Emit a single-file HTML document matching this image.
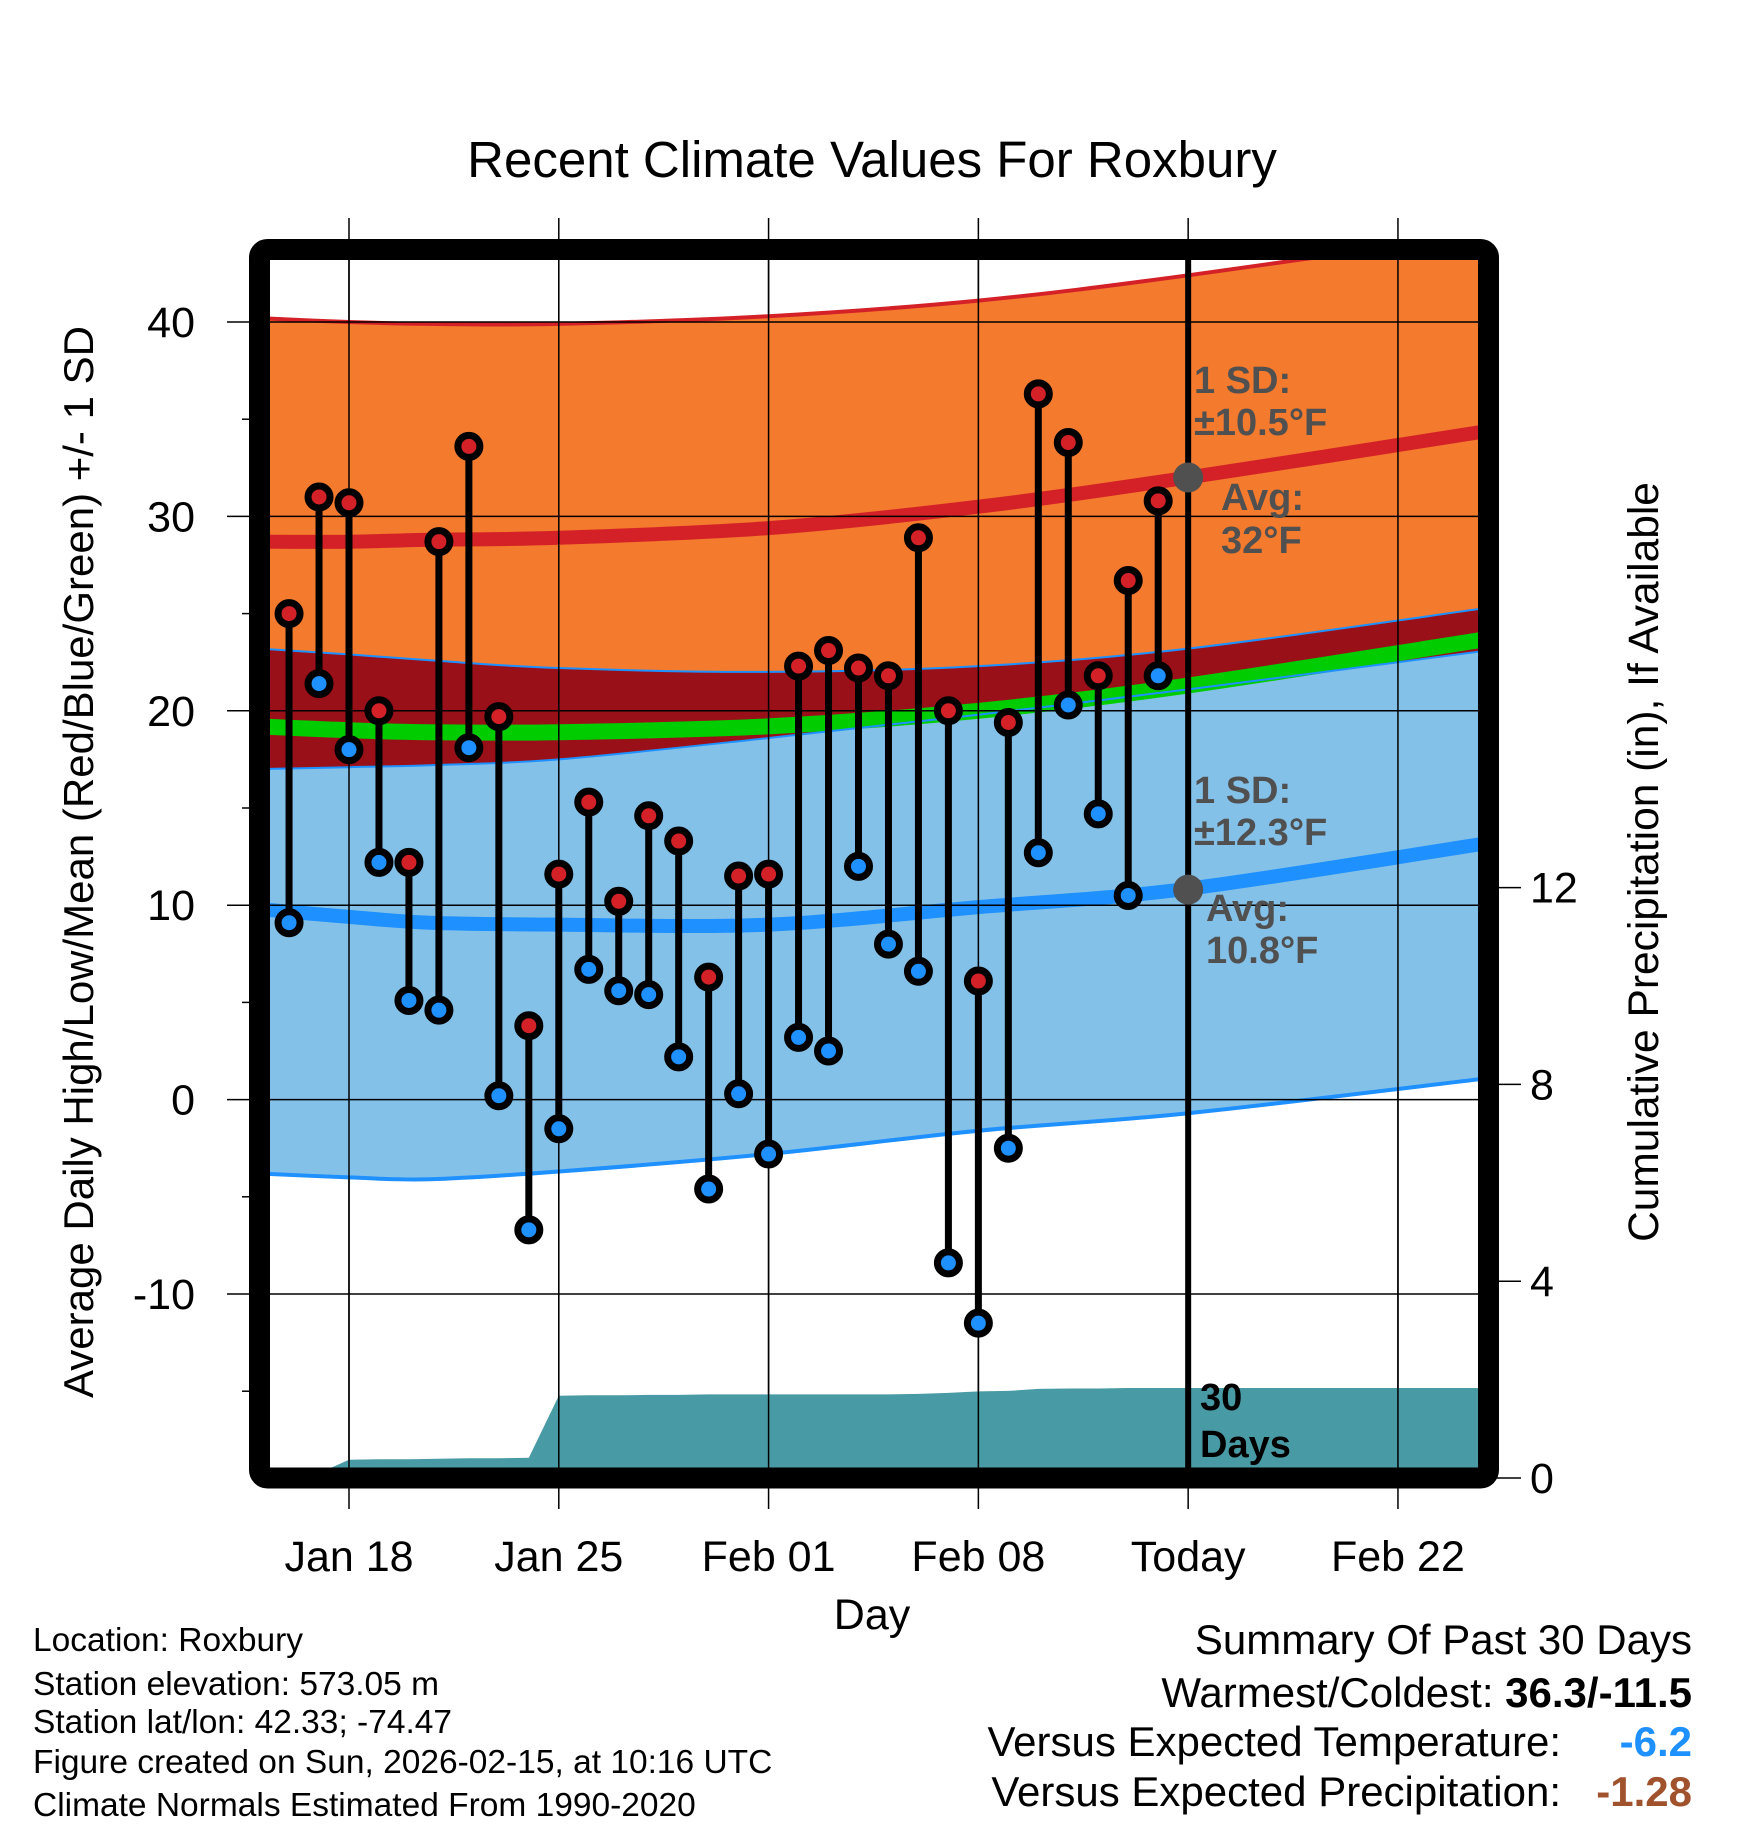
<!DOCTYPE html>
<html><head><meta charset="utf-8"><style>
html,body{margin:0;padding:0;background:#fff}
svg{display:block;font-family:"Liberation Sans",sans-serif}
</style></head><body>
<svg id="chart" width="1748" height="1828" viewBox="0 0 1748 1828" xmlns="http://www.w3.org/2000/svg">
<defs><clipPath id="clip"><rect x="270" y="260" width="1208" height="1208"/></clipPath></defs>
<text x="872" y="177" font-size="51" text-anchor="middle">Recent Climate Values For Roxbury</text>
<g id="grid"></g>
<g id="bands" clip-path="url(#clip)"></g>
<g id="gridin"></g>
<g id="marks"></g>
<g id="annot"></g>
<rect x="259.5" y="249.5" width="1229" height="1228.5" rx="8" fill="none" stroke="#000" stroke-width="21"/>
<g id="axes"></g>
<g font-size="33.5">
<text x="33" y="1651">Location: Roxbury</text>
<text x="33" y="1695">Station elevation: 573.05 m</text>
<text x="33" y="1733">Station lat/lon: 42.33; -74.47</text>
<text x="33" y="1773">Figure created on Sun, 2026-02-15, at 10:16 UTC</text>
<text x="33" y="1816">Climate Normals Estimated From 1990-2020</text>
</g>
<g font-size="42" text-anchor="end">
<text x="1692" y="1654">Summary Of Past 30 Days</text>
<text x="1692" y="1707">Warmest/Coldest: <tspan font-weight="bold">36.3/-11.5</tspan></text>
<text x="1561" y="1756">Versus Expected Temperature:</text>
<text x="1692" y="1756" fill="#1e90ff" font-weight="bold">-6.2</text>
<text x="1561" y="1806">Versus Expected Precipitation:</text>
<text x="1692" y="1806" fill="#a0522d" font-weight="bold">-1.28</text>
</g>
</svg>
<script>
const highs=[25.0,31.0,30.7,20.0,12.2,28.7,33.6,19.7,3.8,11.6,15.3,10.2,14.6,13.3,6.3,11.5,11.6,22.3,23.1,22.2,21.8,28.9,20.0,6.1,19.4,36.3,33.8,21.8,26.7,30.8];
const lows=[9.1,21.4,18.0,12.2,5.1,4.6,18.1,0.2,-6.7,-1.5,6.7,5.6,5.4,2.2,-4.6,0.3,-2.8,3.2,2.5,12.0,8.0,6.6,-8.4,-11.5,-2.5,12.7,20.3,14.7,10.5,21.8];
const precipCum=[0.05,0.1,0.37,0.38,0.38,0.39,0.40,0.40,0.41,1.67,1.68,1.68,1.69,1.69,1.70,1.70,1.70,1.70,1.70,1.70,1.70,1.71,1.73,1.76,1.77,1.81,1.82,1.82,1.83,1.83,1.83,1.83,1.83,1.83,1.83,1.83,1.83,1.83,1.83,1.83,1.83];
const normDays=[-3,0,2.7,7,14,21,28,38];
const highPlusSD=[40.2,40.0,39.9,39.9,40.3,41.1,42.4,44.6];
const highMean=[28.7,28.7,28.8,28.9,29.4,30.5,32.0,34.4];
const highMinusSD=[23.2,22.9,22.6,22.2,22.0,22.3,23.2,25.3];
const meanMean=[19.2,19.0,18.9,18.9,19.2,20.0,21.3,23.7];
const lowPlusSD=[17.0,17.1,17.2,17.5,18.6,19.8,21.1,23.1];
const lowMean=[9.8,9.4,9.1,9.0,9.0,9.9,10.85,13.2];
const lowMinusSD=[-3.8,-4.0,-4.1,-3.7,-2.8,-1.6,-0.7,1.1];
const tempTicks=[40,30,20,10,0,-10];
const precipTicks=[0,4,8,12];
const dateLabels=["Jan 18","Jan 25","Feb 01","Feb 08","Today","Feb 22"];
const dateOffsets=[0,7,14,21,28,35];
const firstDay=-2;
const NS="http://www.w3.org/2000/svg";
const X=d=>349+d*29.97;
const Y=t=>322+(40-t)*19.44;
const P=p=>1478-p*49.2;
function mk(tag,attrs,parent){const e=document.createElementNS(NS,tag);for(const k in attrs)e.setAttribute(k,attrs[k]);parent.appendChild(e);return e;}
const g=id=>document.getElementById(id);
// smooth path through points (Catmull-Rom -> cubic Bezier), returns segment string without initial M
function smooth(arr,rev){
  let p=normDays.map((d,i)=>[X(d),Y(arr[i])]);
  if(rev)p=p.slice().reverse();
  let s="";
  for(let i=0;i<p.length-1;i++){
    const p0=p[Math.max(0,i-1)],p1=p[i],p2=p[i+1],p3=p[Math.min(p.length-1,i+2)];
    const c1=[p1[0]+(p2[0]-p0[0])/6,p1[1]+(p2[1]-p0[1])/6];
    const c2=[p2[0]-(p3[0]-p1[0])/6,p2[1]-(p3[1]-p1[1])/6];
    s+=" C"+c1[0].toFixed(1)+","+c1[1].toFixed(1)+" "+c2[0].toFixed(1)+","+c2[1].toFixed(1)+" "+p2[0].toFixed(1)+","+p2[1].toFixed(1);
  }
  return {start:p[0],seg:s};
}
function band(top,bot,fill,name){
  const a=smooth(top,false),b=smooth(bot,true);
  const d="M"+a.start.join(",")+a.seg+" L"+b.start.join(",")+b.seg+" Z";
  const e=mk('path',{d:d,fill:fill},g('bands'));
  
  
}
function line(arr,color,w,name){
  const a=smooth(arr,false);
  const e=mk('path',{d:"M"+a.start.join(",")+a.seg,fill:'none',stroke:color,'stroke-width':w},g('bands'));
  
  
}
band(highPlusSD,highMinusSD,'#f47a2d','high-sd-band');
band(highMinusSD,lowPlusSD,'#9a1018','overlap-band');
band(lowPlusSD,lowMinusSD,'#84c1e8','low-sd-band');
line(highPlusSD,'#d42127',4,'high-plus-sd-line');
line(highMinusSD,'#1e90ff',2,'high-minus-sd-line');
line(meanMean,'#00cc00',16,'mean-line');
line(lowPlusSD,'#1e90ff',2,'low-plus-sd-line');
line(highMean,'#d42127',14,'high-mean-line');
line(lowMean,'#1e90ff',14,'low-mean-line');
line(lowMinusSD,'#1e90ff',4,'low-minus-sd-line');
{
  let d="M"+X(-3)+","+P(0);
  precipCum.forEach((v,i)=>{d+=" L"+X(-2+i)+","+P(v).toFixed(1);});
  d+=" L"+X(38)+","+P(precipCum[precipCum.length-1]).toFixed(1)+" L"+X(38)+","+P(0)+" Z";
  const e=mk('path',{d:d,fill:'#489aa4'},g('bands'));
  
  
}
dateOffsets.forEach((d,i)=>{
  const x=X(d);
  const a=mk('line',{x1:x,x2:x,y1:218,y2:1509,stroke:'#000','stroke-width':1.5},g('grid'));
  
  
  if(i==4){
    const b=mk('line',{x1:x,x2:x,y1:260,y2:1468,stroke:'#000','stroke-width':6},g('gridin'));
    
    
  } else {
    const b=mk('line',{x1:x,x2:x,y1:260,y2:1468,stroke:'#000','stroke-width':1.5},g('gridin'));
    
    
  }
  const t=mk('text',{x:x,y:1571,'font-size':43,'text-anchor':'middle'},g('axes'));
  t.textContent=dateLabels[i];
  
  
});
tempTicks.forEach(v=>{
  const y=Y(v);
  const a=mk('line',{x1:227,x2:1478,y1:y,y2:y,stroke:'#000','stroke-width':1.5},g('gridin'));
  
  
  const t=mk('text',{x:195,y:y+15,'font-size':43,'text-anchor':'end'},g('axes'));
  t.textContent=v;
  
  
  const m=mk('line',{x1:242,x2:252,y1:Y(v-5),y2:Y(v-5),stroke:'#000','stroke-width':1.5},g('grid'));
  
  
});
precipTicks.forEach(v=>{
  const y=P(v);
  const a=mk('line',{x1:1488,x2:1521,y1:y,y2:y,stroke:'#000','stroke-width':1.5},g('axes'));
  
  
  const t=mk('text',{x:1530,y:y+15,'font-size':43},g('axes'));
  t.textContent=v;
  
  
});
{
  const a=g('axes');
  let t=mk('text',{x:872,y:1629,'font-size':43,'text-anchor':'middle'},a);
  t.textContent='Day';
  
  
  t=mk('text',{x:0,y:0,'font-size':42,'text-anchor':'middle',transform:'translate(93,862) rotate(-90)'},a);
  t.textContent='Average Daily High/Low/Mean (Red/Blue/Green) +/- 1 SD';
  
  
  t=mk('text',{x:0,y:0,'font-size':42.5,'text-anchor':'middle',transform:'translate(1658,862) rotate(-90)'},a);
  t.textContent='Cumulative Precipitation (in), If Available';
  
  
}
highs.forEach((h,i)=>{
  const x=X(firstDay+i),yh=Y(h),yl=Y(lows[i]);
  const s=mk('line',{x1:x,x2:x,y1:yh,y2:yl,stroke:'#000','stroke-width':7},g('marks'));
  
  
});
highs.forEach((h,i)=>{
  const x=X(firstDay+i);
  const c1=mk('circle',{cx:x,cy:Y(h),r:11,fill:'#d42127',stroke:'#000','stroke-width':7},g('marks'));
  
  
  const c2=mk('circle',{cx:x,cy:Y(lows[i]),r:11,fill:'#1e90ff',stroke:'#000','stroke-width':7},g('marks'));
  
  
});
{
  const a=g('annot');
  const tx=X(28);
  let c=mk('circle',{cx:tx,cy:Y(32),r:15,fill:'#505050'},a);
  
  
  c=mk('circle',{cx:tx,cy:Y(10.8),r:15,fill:'#505050'},a);
  
  
  const labels=[["1 SD:",1194,393,'#505050'],["±10.5°F",1194,435,'#505050'],["Avg:",1221,510,'#505050'],["32°F",1221,553,'#505050'],
    ["1 SD:",1194,803,'#505050'],["±12.3°F",1194,845,'#505050'],["Avg:",1206,921,'#505050'],["10.8°F",1206,963,'#505050'],
    ["30",1200,1410,'#000'],["Days",1200,1457,'#000']];
  labels.forEach(l=>{
    const t=mk('text',{x:l[1],y:l[2],'font-size':38,'font-weight':'bold',fill:l[3]},a);
    t.textContent=l[0];
    
    
  });
}
</script>
</body></html>
